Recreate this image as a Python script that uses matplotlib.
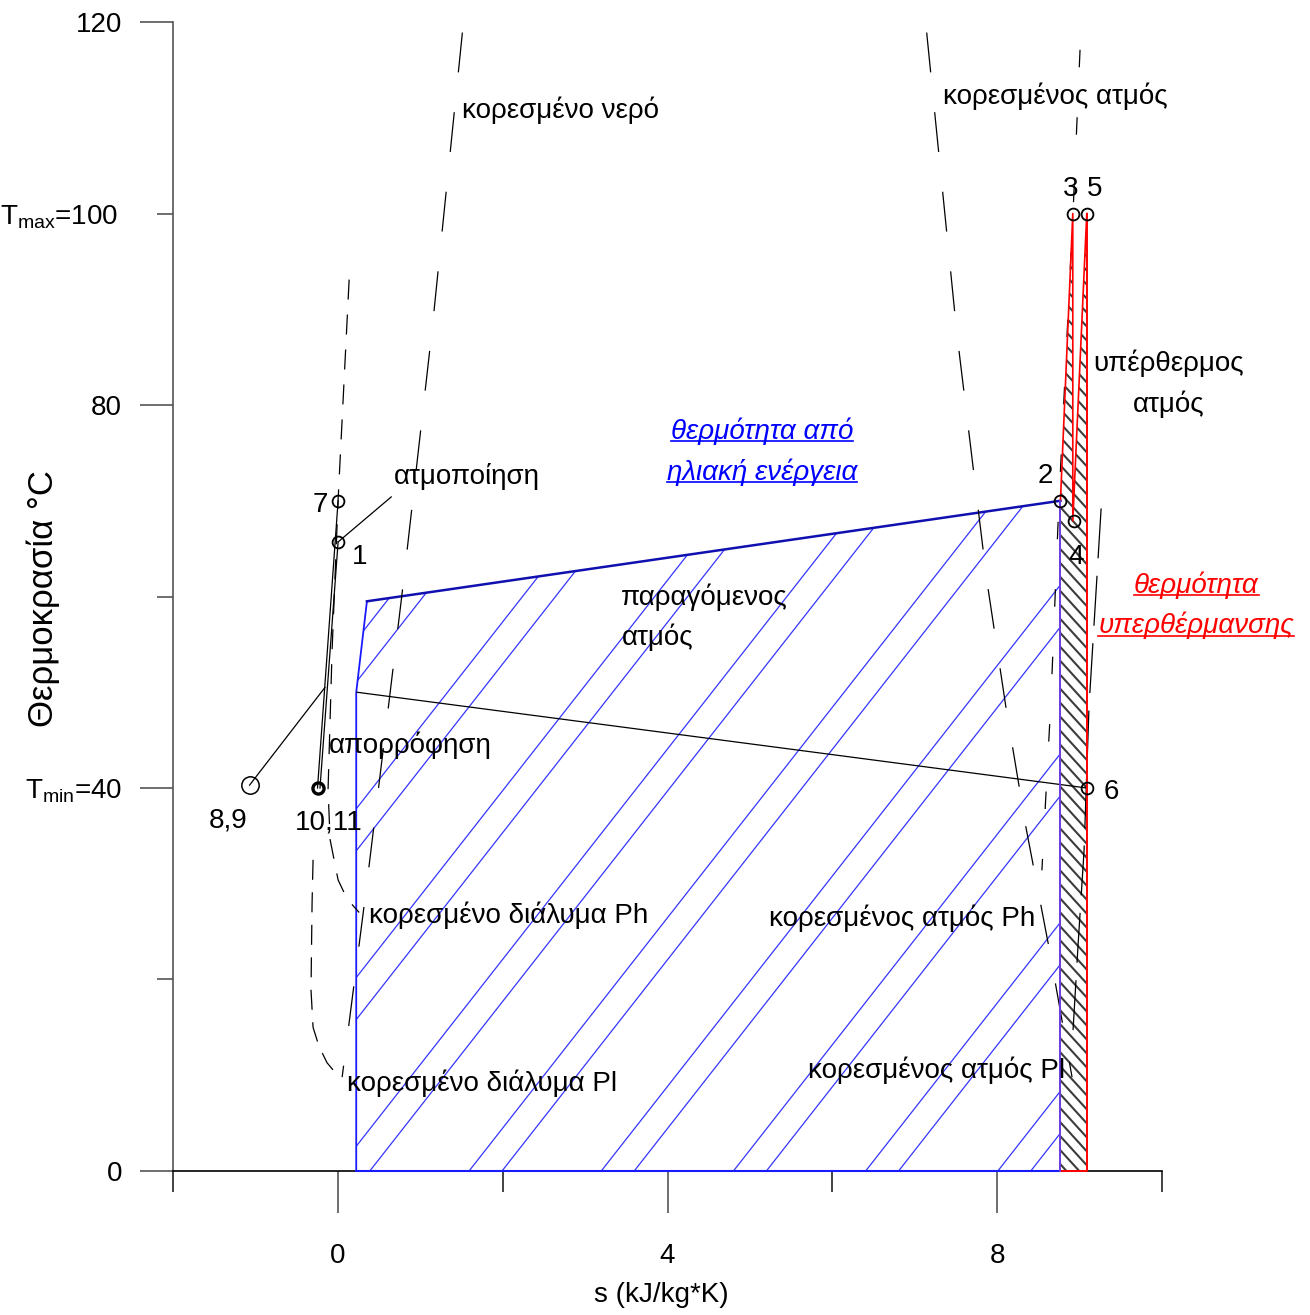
import numpy as np
import matplotlib
matplotlib.use('Agg')
import matplotlib.pyplot as plt
from matplotlib import font_manager as fm
from matplotlib.patches import Polygon

# --- font choice: narrow sans if available ---
try:
    fm.findfont('Liberation Sans Narrow', fallback_to_default=False)
    FONT = 'Liberation Sans Narrow'
    FS = 24
except ValueError:
    FONT = 'Liberation Sans'
    FS = 20
plt.rcParams['font.family'] = [FONT, 'DejaVu Sans']
plt.rcParams['mathtext.fontset'] = 'custom'
plt.rcParams['mathtext.rm'] = FONT
plt.rcParams['mathtext.it'] = FONT + ':italic'

# --- data (s in kJ/kg*K, T in C) ---
solar_s = [0.22, 0.22, 0.35, 8.77, 8.77]
solar_T = [0.0, 50.0, 59.5, 70.0, 0.0]

heat_s = [8.77, 8.92, 8.92, 9.09, 9.09, 8.77]
heat_T = [70.0, 100.0, 67.9, 100.0, 0.0, 0.0]

pts_s = [0.00, 8.77, 8.92, 8.93, 9.09, 9.09, 0.00]
pts_T = [65.7, 70.0, 100.0, 67.9, 100.0, 40.0, 70.0]
p89 = (-1.075, 40.3)
p1011 = (-0.24, 40.0)

line71_s = [0.0, -0.25]; line71_T = [70.0, 40.0]
line11_s = [0.0, -0.22]; line11_T = [65.7, 40.0]
line89_s = [-1.075, -0.16]; line89_T = [40.3, 50.5]
leader_s = [0.0, 0.645]; leader_T = [65.7, 70.4]
absorb_s = [0.23, 9.09]; absorb_T = [50.0, 40.0]

# dashed saturation curves
water_s = [1.509, 1.144, 0.803, 0.621, 0.341, 0.049]
water_T = [118.9, 88.1, 62.2, 49.2, 29.4, 9.8]
solPh_s = [0.134, 0.0, -0.073, -0.122, -0.097, 0.0, 0.110, 0.256]
solPh_T = [93.1, 70.1, 54.4, 39.8, 34.6, 30.4, 28.4, 27.0]
solPl_s = [-0.304, -0.316, -0.329, -0.304, -0.231, -0.134, 0.012]
solPl_T = [32.5, 28.0, 18.9, 15.0, 13.0, 11.3, 9.8]
steam_s = [7.146, 7.511, 7.876, 8.107, 8.351, 8.643, 8.911]
steam_T = [118.9, 87.6, 61.7, 48.5, 35.9, 22.8, 9.8]
steamPh_s = [9.008, 8.923, 8.752, 8.655, 8.545]
steamPh_T = [117.1, 100.1, 70.0, 49.2, 31.4]
steamPl_s = [9.264, 9.117, 9.057, 8.984, 8.923]
steamPl_T = [69.2, 48.5, 33.5, 23.6, 14.7]

fig = plt.figure(figsize=(13.1, 13.15), dpi=100)
ax = fig.add_axes([0, 0, 1, 1])
ax.set_xlim(-4.105, 11.80)
ax.set_ylim(-15.04, 122.3)
ax.patch.set_alpha(0)

for k in ['top', 'right']:
    ax.spines[k].set_visible(False)
ax.spines['left'].set_position(('data', -2))
ax.spines['left'].set_bounds(0, 120)
ax.spines['left'].set_color('#555555')
ax.spines['bottom'].set_position(('data', 0))
ax.spines['bottom'].set_bounds(-2, 10)
ax.spines['bottom'].set_color('black')
ax.spines['left'].set_linewidth(1.2)
ax.spines['bottom'].set_linewidth(1.2)

ax.set_xticks([0, 4, 8], labels=['0', '4', '8'])
ax.set_xticks([-2, 2, 6, 10], minor=True)
ax.set_yticks([0, 40, 80, 120], labels=['0', r'T$_{\mathrm{min}}$=40', '80', '120'])
ax.set_yticks([20, 60, 100], labels=['', '', r'T$_{\mathrm{max}}$=100'], minor=True)
ax.tick_params(axis='x', which='major', length=30, width=1.2, color='#555555', pad=22, labelsize=FS)
ax.tick_params(axis='x', which='minor', length=15, width=1.2, color='#222222')
ax.tick_params(axis='y', which='major', length=24, width=1.2, color='#555555', pad=13, labelsize=FS)
ax.tick_params(axis='y', which='minor', length=11.5, width=1.2, color='#555555', pad=28, labelsize=FS)

ax.text(3.93, -13.0, 's (kJ/kg*K)', ha='center', va='center', fontsize=FS)
ax.text(-3.58, 59.8, 'Θερμοκρασία °C', rotation=90, ha='center', va='center',
        fontsize=25, family=['Liberation Sans', 'DejaVu Sans'])

# solar heat region with paired blue hatch
solar = Polygon(np.column_stack([solar_s, solar_T]), closed=True,
                facecolor='none', edgecolor='none')
ax.add_patch(solar)
slope_b = 10.98
for k in range(-8, 7):
    for off in (0.0, 0.4):
        x0 = -0.015 + 1.605 * k + off
        ln, = ax.plot([x0, x0 + 130 / slope_b], [0, 130], color='#3535ff', lw=0.9, zorder=2)
        ln.set_clip_path(solar)
ax.plot(solar_s[:3], solar_T[:3], color='#1a1aff', lw=1.3, zorder=3)
ax.plot(solar_s[2:4], solar_T[2:4], color='#1010b0', lw=1.8, zorder=3)
ax.plot([solar_s[4], solar_s[0]], [0, 0], color='#1a1aff', lw=1.5, zorder=3)

# superheat region with dark hatch
heat = Polygon(np.column_stack([heat_s, heat_T]), closed=True,
               facecolor='none', edgecolor='none')
ax.add_patch(heat)
slope_g = -9.44
for c in np.arange(-5, 110, 1.46):
    ln, = ax.plot([8.6, 9.3], [c, c + slope_g * 0.7], color='#3c3c3c', lw=1.5, zorder=2)
    ln.set_clip_path(heat)
ax.plot(heat_s[:4], heat_T[:4], color='red', lw=1.2, zorder=4)
ax.plot(heat_s[3:6], heat_T[3:6], color='red', lw=1.4, zorder=4)
ax.plot([8.77, 8.77], [0, 70], color='#6a3adf', lw=1.4, zorder=4)

# cycle lines
for xs, ys in [(line71_s, line71_T), (line11_s, line11_T), (line89_s, line89_T),
               (leader_s, leader_T), (absorb_s, absorb_T)]:
    ax.plot(xs, ys, color='black', lw=0.9, zorder=3)

# dashed saturation lines
for xs, ys, d in [(water_s, water_T, (32, 32)), (steam_s, steam_T, (32, 32)),
                  (solPh_s, solPh_T, (16, 12)), (solPl_s, solPl_T, (16, 10)),
                  (steamPh_s, steamPh_T, (14, 40)), (steamPl_s, steamPl_T, (40, 14))]:
    ln, = ax.plot(xs, ys, color='black', lw=0.9, zorder=3)
    ln.set_dashes(d)

# state points
ax.plot(pts_s, pts_T, 'o', mfc='none', mec='black', ms=8.5, mew=1.3, zorder=5)
ax.plot(*p89, 'o', mfc='none', mec='black', ms=12.5, mew=1.1, zorder=5)
ax.plot(*p1011, 'o', mfc='none', mec='black', ms=8, mew=2.4, zorder=5)

# labels
plain = [
    (1.51, 110.8, 'κορεσμένο νερό', 'left'),
    (7.34, 112.2, 'κορεσμένος ατμός', 'left'),
    (8.89, 102.6, '3', 'center'),
    (9.18, 102.6, '5', 'center'),
    (10.08, 84.4, 'υπέρθερμος', 'center'),
    (10.08, 80.1, 'ατμός', 'center'),
    (0.68, 72.5, 'ατμοποίηση', 'left'),
    (-0.21, 69.6, '7', 'center'),
    (0.26, 64.1, '1', 'center'),
    (8.59, 72.6, '2', 'center'),
    (8.96, 64.1, '4', 'center'),
    (3.44, 59.9, 'παραγόμενος', 'left'),
    (3.44, 55.7, 'ατμός', 'left'),
    (-0.11, 44.5, 'απορρόφηση', 'left'),
    (-1.33, 36.6, '8,9', 'center'),
    (-0.11, 36.4, '10,11', 'center'),
    (9.39, 39.6, '6', 'center'),
    (0.38, 26.7, 'κορεσμένο διάλυμα Ph', 'left'),
    (8.47, 26.4, 'κορεσμένος ατμός Ph', 'right'),
    (0.11, 9.2, 'κορεσμένο διάλυμα Pl', 'left'),
    (5.71, 10.5, 'κορεσμένος ατμός Pl', 'left'),
]
for x, y, s, ha in plain:
    ax.text(x, y, s, ha=ha, va='center', fontsize=FS, zorder=6)

under = [
    (5.15, 76.5, 'θερμότητα από', 'blue'),
    (5.15, 72.2, 'ηλιακή ενέργεια', 'blue'),
    (10.42, 60.4, 'θερμότητα', 'red'),
    (10.42, 56.2, 'υπερθέρμανσης', 'red'),
]
utexts = []
for x, y, s, c in under:
    t = ax.text(x, y, s, ha='center', va='baseline', fontsize=FS, color=c,
                style='italic', zorder=6)
    utexts.append((t, x, y, c))

fig.canvas.draw()
inv = ax.transData.inverted()
for t, x, y, c in utexts:
    bb = t.get_window_extent()
    (x0, _), (x1, _) = inv.transform([(bb.x0, 0), (bb.x1, 0)])
    ax.plot([x0, x1], [y - 0.28, y - 0.28], color=c, lw=1.2, zorder=6)

fig.savefig('out.png', dpi=100)
